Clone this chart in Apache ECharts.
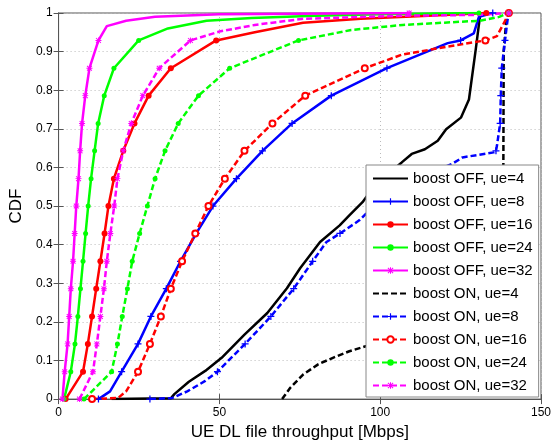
<!DOCTYPE html>
<html>
<head>
    <meta charset="utf-8">
    <title>CDF of UE DL file throughput</title>
    <script src="https://cdn.jsdelivr.net/npm/echarts@6/dist/echarts.min.js"></script>
    <style>
        html, body { margin: 0; padding: 0; background: #fff; }
    </style>
</head>
<body>
    <div id="cdfView" style="width: 555px;height: 446px;"></div>
</body>

<script>
    // [throughput Mbps, CDF, marker?]
    var offUe4 = [[16.5,0],[34.9,0.002],[36,0.013],[40.5,0.045],[45.6,0.073],[50.7,0.107],[57.8,0.167],
        [64.9,0.223],[71,0.287],[75.1,0.339],[81.3,0.407],[87.4,0.45],[90.4,0.476],[94.5,0.51],[98,0.55],
        [102,0.58],[106.7,0.613],[109.8,0.635],[113.9,0.647],[117.9,0.669],[120.5,0.699],[125.1,0.729],
        [127.6,0.776],[129.7,0.905],[131,0.99],[131.5,1]];
    var offUe8 = [[12.4,0,1],[16,0.02],[19.6,0.071,1],[24.7,0.143,1],[28.7,0.214,1],[33.5,0.286,1],
        [37.9,0.357,1],[42.8,0.429,1],[48,0.5,1],[55.3,0.571,1],[63.4,0.643,1],[72.6,0.714,1],
        [84.8,0.786,1],[102.1,0.857,1],[121,0.922],[125,0.929,1],[129.1,0.947],[130.7,0.99],[135,1,1]];
    var offUe16 = [[2.2,0,1],[7.6,0.071,1],[9.1,0.143,1],[10.4,0.214,1],[11.7,0.286,1],[13,0.357,1],
        [14.3,0.429,1],[15.5,0.5,1],[17.2,0.571,1],[20.1,0.643,1],[23.6,0.714,1],[28,0.786,1],
        [34.9,0.857,1],[49,0.929,1],[61,0.95],[76,0.975],[94,0.985],[115,0.993],[133,1,1]];
    var offUe24 = [[1.7,0,1],[3.8,0.071,1],[5.1,0.143,1],[6,0.214,1],[6.8,0.286,1],[7.6,0.357,1],
        [8.4,0.429,1],[9.2,0.5,1],[10.1,0.571,1],[11.2,0.643,1],[12.3,0.714,1],[14.2,0.786,1],
        [17.2,0.857,1],[24.9,0.929,1],[34,0.96],[46,0.98],[60,0.987],[80,0.993],[100,0.997],[130.7,1,1]];
    var offUe32 = [[1.2,0,1],[1.9,0.071,1],[2.8,0.143,1],[3.3,0.214,1],[3.8,0.286,1],[4.5,0.357,1],
        [5,0.429,1],[5.5,0.5,1],[6.2,0.571,1],[6.7,0.643,1],[7.3,0.714,1],[8.3,0.786,1],[9.6,0.857,1],
        [12.4,0.929,1],[15,0.966],[21,0.98],[30,0.99],[50,0.997],[109,1,1]];
    var onUe4 = [[69.5,0],[72.1,0.03],[76.1,0.064],[80.7,0.09],[85.3,0.107],[90.4,0.124],[95.5,0.137],
        [100,0.145],[115,0.16],[128,0.2],[135,0.3],[137.5,0.45],[138.3,0.61],[138.4,0.9],[139.2,0.98],[140,1]];
    var onUe8 = [[28.4,0,1],[35.4,0.003],[40,0.02],[45.6,0.047],[49.4,0.071,1],[58,0.143,1],[66,0.214,1],
        [73.1,0.286,1],[79,0.357,1],[83.3,0.407],[87.5,0.429,1],[93.5,0.463],[98,0.5,1],[105,0.54],
        [112,0.571,1],[122.5,0.61],[125.6,0.626],[135.3,0.639],[136,0.643,1],[136.3,0.656],[137.3,0.714,1],
        [137.5,0.786,1],[137.8,0.857,1],[138.8,0.929,1],[139.8,0.995],[140,1,1]];
    var onUe16 = [[10.4,0,1],[18.5,0.003],[21,0.02],[24.7,0.071,1],[28.4,0.143,1],[31.8,0.214,1],
        [34.9,0.286,1],[38.4,0.357,1],[42.5,0.429,1],[46.6,0.5,1],[51.7,0.571,1],[57.8,0.643,1],
        [66.5,0.714,1],[76.7,0.786,1],[95.2,0.857,1],[106.7,0.892],[121,0.913],[132.7,0.929,1],
        [136.3,0.94],[139.8,0.995],[140,1,1]];
    var onUe24 = [[7.9,0,1],[16.5,0.071,1],[18.3,0.143,1],[19.8,0.214,1],[21.4,0.286,1],[22.9,0.357,1],
        [25.2,0.429,1],[27.6,0.5,1],[30,0.571,1],[33.1,0.643,1],[37.2,0.714,1],[43.5,0.786,1],
        [53.2,0.857,1],[74.6,0.929,1],[91,0.956],[107,0.969],[120,0.975],[131,0.98],[137,0.99],[140,1,1]];
    var onUe32 = [[6.5,0,1],[10.7,0.071,1],[11.9,0.143,1],[13,0.214,1],[14.1,0.286,1],[15,0.357,1],
        [16.1,0.429,1],[17.3,0.5,1],[18.3,0.571,1],[20.1,0.643,1],[22.6,0.714,1],[26.2,0.786,1],
        [31.3,0.857,1],[41,0.929,1],[50,0.952],[61,0.969],[76,0.985],[107,0.993],[130,0.995],[140,1,1]];

    var seriesNames = ['boost OFF, ue=4','boost OFF, ue=8','boost OFF, ue=16','boost OFF, ue=24','boost OFF, ue=32',
        'boost ON, ue=4','boost ON, ue=8','boost ON, ue=16','boost ON, ue=24','boost ON, ue=32'];
    var xTicks = [0, 50, 100, 150];

    var plusPath = 'path://M-0.9,-5H0.9V-0.9H5V0.9H0.9V5H-0.9V0.9H-5V-0.9H-0.9Z';
    var starPath = 'path://M-0.8,-5H0.8V5H-0.8Z M-5,-0.8H5V0.8H-5Z ' +
        'M-4.6,-3.4L-3.4,-4.6L4.6,3.4L3.4,4.6Z M-4.6,3.4L3.4,-4.6L4.6,-3.4L-3.4,4.6Z';

    function toData(pts) {
        return pts.map(function (p) {
            var item = { value: [p[0], p[1]] };
            if (!p[2]) item.symbol = 'none';
            return item;
        });
    }

    function curve(name, pts, color, dashed, symbol, size) {
        var empty = symbol.indexOf('empty') === 0;
        return {
            name: name,
            type: 'line',
            data: toData(pts),
            color: color,
            symbol: symbol,
            symbolSize: size,
            showAllSymbol: true,
            animation: false,
            lineStyle: { color: color, width: 2.5, type: dashed ? [6, 3] : 'solid' },
            itemStyle: { color: color, borderColor: color, borderWidth: empty ? 1.8 : 0 }
        };
    }

    // black curves have no marker, hide the legend dot
    var legendData = seriesNames.map(function (n, i) {
        if (i === 0 || i === 5) return { name: n, itemStyle: { opacity: 0 } };
        return { name: n };
    });

    var cdfOption = {
        animation: false,
        grid: { left: 51, right: 14, top: 13, bottom: 44, show: true, borderColor: '#555', borderWidth: 1 },
        legend: {
            orient: 'vertical',
            left: 366,
            top: 165,
            data: legendData,
            backgroundColor: '#fff',
            borderColor: '#888',
            borderWidth: 1,
            padding: [6, 6, 4, 6],
            itemWidth: 35,
            itemHeight: 8,
            itemGap: 8,
            textStyle: { fontFamily: 'Liberation Sans', fontSize: 15, color: '#000' }
        },
        xAxis: [{
            type: 'value', min: 0, max: 150, interval: 50,
            name: 'UE DL file throughput [Mbps]', nameLocation: 'middle', nameGap: 20,
            nameTextStyle: { fontFamily: 'Liberation Sans', fontSize: 17, color: '#000' },
            axisLine: { show: true, lineStyle: { color: '#555' } },
            axisTick: { inside: true, length: 5, lineStyle: { color: '#555' } },
            axisLabel: { fontFamily: 'Liberation Sans', fontSize: 12, color: '#000', margin: 8,
                formatter: function (v) { return xTicks.indexOf(v) >= 0 ? String(v) : ''; } },
            splitLine: { show: true, lineStyle: { color: '#bbb', type: [1, 3] } }
        }, {
            type: 'value', min: 0, max: 150, interval: 50, position: 'top',
            axisLine: { show: true, lineStyle: { color: '#555' } },
            axisTick: { inside: true, length: 5, lineStyle: { color: '#555' } },
            axisLabel: { show: false },
            splitLine: { show: false }
        }],
        yAxis: [{
            type: 'value', min: 0, max: 1, interval: 0.1,
            name: 'CDF', nameLocation: 'middle', nameGap: 33,
            nameTextStyle: { fontFamily: 'Liberation Sans', fontSize: 17, color: '#000' },
            axisLine: { show: true, lineStyle: { color: '#555' } },
            axisTick: { inside: true, length: 5, lineStyle: { color: '#555' } },
            axisLabel: { fontFamily: 'Liberation Sans', fontSize: 12, color: '#000', margin: 6 },
            splitLine: { show: true, lineStyle: { color: '#bbb', type: [1, 3] } }
        }, {
            type: 'value', min: 0, max: 1, interval: 0.1, position: 'right',
            axisLine: { show: true, lineStyle: { color: '#555' } },
            axisTick: { inside: true, length: 5, lineStyle: { color: '#555' } },
            axisLabel: { show: false },
            splitLine: { show: false }
        }],
        series: [
            curve(seriesNames[0], offUe4, '#000000', false, 'circle', 0),
            curve(seriesNames[1], offUe8, '#0000ff', false, plusPath, 7),
            curve(seriesNames[2], offUe16, '#ff0000', false, 'circle', 6),
            curve(seriesNames[3], offUe24, '#00ff00', false, 'circle', 5),
            curve(seriesNames[4], offUe32, '#ff00ff', false, starPath, 6),
            curve(seriesNames[5], onUe4, '#000000', true, 'circle', 0),
            curve(seriesNames[6], onUe8, '#0000ff', true, plusPath, 7),
            curve(seriesNames[7], onUe16, '#ff0000', true, 'emptyCircle', 6),
            curve(seriesNames[8], onUe24, '#00ff00', true, 'circle', 5),
            curve(seriesNames[9], onUe32, '#ff00ff', true, starPath, 6)
        ]
    };

    var cdfChart = echarts.init(document.getElementById('cdfView'));
    cdfChart.setOption(cdfOption, true);
</script>
</html>
